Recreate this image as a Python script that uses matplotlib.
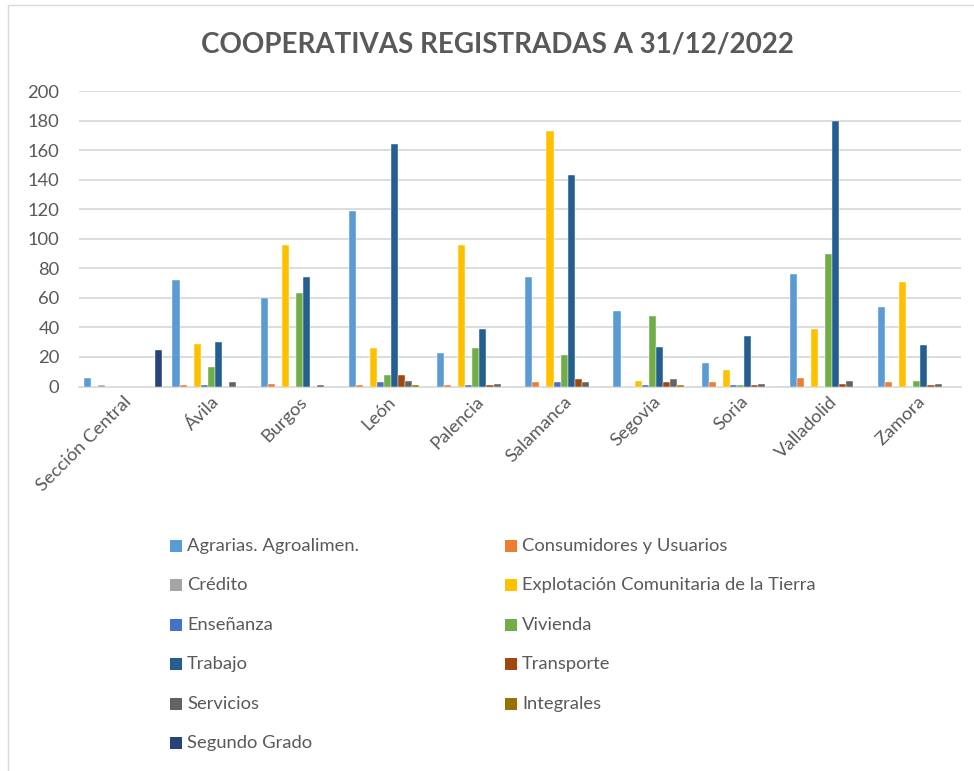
import matplotlib
matplotlib.use("Agg")
import matplotlib.pyplot as plt
from matplotlib.patches import Rectangle
import numpy as np

categories = ["Sección Central", "Ávila", "Burgos", "León", "Palencia",
              "Salamanca", "Segovia", "Soria", "Valladolid", "Zamora"]
series_names = ["Agrarias. Agroalimen.", "Consumidores y Usuarios", "Crédito",
                "Explotación Comunitaria de la Tierra", "Enseñanza", "Vivienda",
                "Trabajo", "Transporte", "Servicios", "Integrales", "Segundo Grado"]
colors = ["#5B9BD5", "#ED7D31", "#A5A5A5", "#FFC000", "#4472C4", "#70AD47",
          "#255E91", "#9E480E", "#636363", "#997300", "#264478"]

agrarias     = [6, 72, 60, 119, 23, 74, 51, 16, 76, 54]
consumidores = [0, 1, 2, 1, 1, 3, 0, 3, 6, 3]
credito      = [1, 0, 0, 0, 0, 0, 0, 0, 0, 0]
explotacion  = [0, 29, 96, 26, 96, 173, 4, 11, 39, 71]
ensenanza    = [0, 1, 0, 3, 1, 3, 1, 1, 0, 0]
vivienda     = [0, 13, 63, 8, 26, 21, 48, 1, 90, 4]
trabajo      = [0, 30, 74, 164, 39, 143, 27, 34, 180, 28]
transporte   = [0, 0, 0, 8, 1, 5, 3, 1, 2, 1]
servicios    = [0, 3, 1, 4, 2, 3, 5, 2, 4, 2]
integrales   = [0, 0, 0, 1, 0, 0, 1, 0, 0, 0]
segundo      = [25, 0, 0, 0, 0, 0, 0, 0, 0, 0]
all_series = [agrarias, consumidores, credito, explotacion, ensenanza, vivienda,
              trabajo, transporte, servicios, integrales, segundo]

yticks = [0, 20, 40, 60, 80, 100, 120, 140, 160, 180, 200]
title = "COOPERATIVAS REGISTRADAS A 31/12/2022"

FONT = ["Lato", "DejaVu Sans"]
plt.rcParams["font.family"] = FONT
TXT = "#595959"
FS = 13.2

W, H = 974, 771
fig = plt.figure(figsize=(W / 100, H / 100), dpi=100)

# chart border
fig.add_artist(Rectangle((8 / W, -0.01), (W + 10) / W, 1 - 5 / H + 0.01,
                         transform=fig.transFigure, fill=False,
                         edgecolor="#D9D9D9", linewidth=1.0))

x0, x1 = 79, 961
yb, yt = 386.5, 91
ax = fig.add_axes([x0 / W, 1 - yb / H, (x1 - x0) / W, (yb - yt) / H])

n = len(all_series)
bw = 1 / 12.5
x = np.arange(len(categories))
for i, (vals, c) in enumerate(zip(all_series, colors)):
    ax.bar(x + (i - (n - 1) / 2) * bw, vals, width=bw, color=c,
           edgecolor="white", linewidth=0.3, zorder=3)

ax.set_xlim(-0.5, len(categories) - 0.5)
ax.set_ylim(0, 200)
ax.set_yticks(yticks)
ax.set_yticklabels([str(v) for v in yticks])
ax.yaxis.grid(True, color="#D9D9D9", linewidth=1.3, zorder=0)
ax.set_axisbelow(True)
for s in ["top", "right", "left"]:
    ax.spines[s].set_visible(False)
ax.spines["bottom"].set_color("#D9D9D9")
ax.spines["bottom"].set_linewidth(1.3)
ax.tick_params(axis="y", length=0, pad=14, labelsize=FS, labelcolor=TXT)
ax.tick_params(axis="x", length=0, pad=5, labelsize=FS, labelcolor=TXT)
ax.set_xticks(x)
ax.set_xticklabels(categories, rotation=45, ha="right", va="top",
                   rotation_mode="anchor")

fig.text(497 / W, 1 - 45 / H, title, ha="center", va="center",
         fontsize=20, fontweight="bold", color=TXT)

# legend (row-wise, two columns like the original)
col_x = [170, 505]
row_y0, row_dy = 546, 39.4
sq = 12
for i, (name, c) in enumerate(zip(series_names, colors)):
    r, col = divmod(i, 2)
    cx = col_x[col]
    cy = row_y0 + r * row_dy
    fig.add_artist(Rectangle((cx / W, 1 - (cy + sq / 2) / H), sq / W, sq / H,
                             transform=fig.transFigure, facecolor=c,
                             edgecolor="none"))
    fig.text((cx + 17) / W, 1 - cy / H, name, ha="left", va="center",
             fontsize=FS, color=TXT)

fig.savefig("out.png", dpi=100)
